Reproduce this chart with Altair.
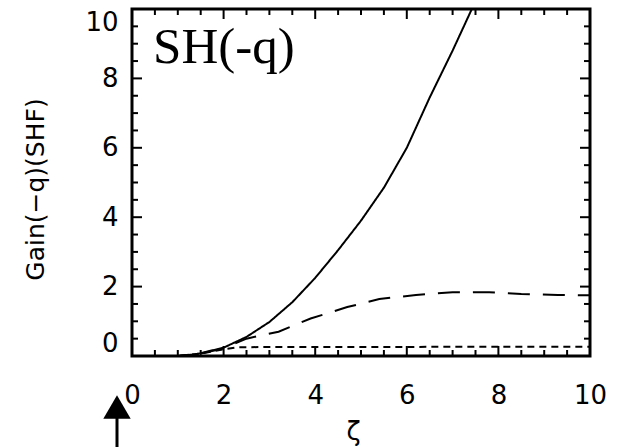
import altair as alt
import pandas as pd

# ---- data ----
solid_x = [0.0, 0.5, 1.0, 1.4, 2.0, 2.5, 3.0, 3.5, 4.0, 4.5, 5.0, 5.5, 6.0, 6.5, 7.0, 7.42]
solid_y = [0.0, 0.0, 0.0, 0.05, 0.24, 0.55, 0.98, 1.55, 2.25, 3.05, 3.9, 4.85, 6.0, 7.45, 8.8, 10.0]

dash_x = [0.0, 0.5, 1.0, 1.5, 2.0, 2.5, 3.2, 3.9, 4.7, 5.4, 6.2, 7.0, 7.8, 8.5, 9.3, 10.0]
dash_y = [0.0, 0.0, 0.0, 0.07, 0.22, 0.5, 0.7, 1.08, 1.41, 1.64, 1.76, 1.84, 1.84, 1.79, 1.76, 1.75]

dot_x = [0.0, 0.5, 1.0, 1.5, 2.0, 2.3, 3.0, 4.0, 5.0, 6.0, 7.0, 8.0, 9.0, 10.0]
dot_y = [0.0, 0.0, 0.0, 0.07, 0.19, 0.25, 0.26, 0.26, 0.26, 0.26, 0.27, 0.27, 0.27, 0.27]

series_names = ["solid", "long dash", "short dash"]

major_ticks = [0, 2, 4, 6, 8, 10]
minor_ticks = [0.5, 1, 1.5, 2.5, 3, 3.5, 4.5, 5, 5.5, 6.5, 7, 7.5, 8.5, 9, 9.5]

panel_label = "SH(-q)"
panel_label_x = [0.46]
panel_label_y = [8.44]

# ---- build tables ----
rows = []
for name, xs_, ys_ in zip(series_names, [solid_x, dash_x, dot_x], [solid_y, dash_y, dot_y]):
    for i, (a, b) in enumerate(zip(xs_, ys_)):
        rows.append({"series": name, "zeta": a, "gain": b, "order": i})
curves = pd.DataFrame(rows)

W, H = 458, 347
xs = alt.Scale(domain=[0, 10], nice=False, zero=False)
ys = alt.Scale(domain=[0, 10], nice=False, zero=False)

lines = alt.Chart(curves).mark_line(color="black", strokeWidth=2, clip=True).encode(
    x=alt.X("zeta:Q", scale=xs,
            axis=alt.Axis(title="ζ", values=major_ticks, format="d", ticks=False, domain=False,
                          grid=False, labelFont="DejaVu Sans", labelFontSize=26, labelColor="black",
                          labelPadding=26, labelFlush=False,
                          titleFont="DejaVu Sans", titleFontSize=26, titleFontWeight="normal",
                          titleColor="black", titleX=221, titleY=75, titleBaseline="middle")),
    y=alt.Y("gain:Q", scale=ys,
            axis=alt.Axis(title="Gain(−q)(SHF)", values=major_ticks, format="d", ticks=False,
                          domain=False, grid=False, labelFont="DejaVu Sans", labelFontSize=26,
                          labelColor="black", labelPadding=14, labelFlush=True,
                          titleFont="DejaVu Sans", titleFontSize=25, titleFontWeight="normal",
                          titleColor="black", titleX=-97, titleY=180, titleAngle=-90,
                          titleAlign="center", titleBaseline="middle")),
    strokeDash=alt.StrokeDash("series:N", legend=None,
                              scale=alt.Scale(domain=series_names,
                                              range=[[1, 0], [22, 13], [7, 5]])),
    order="order:Q",
)

major_df = pd.DataFrame({"t": major_ticks})
minor_df = pd.DataFrame({"t": minor_ticks})

def tick_layers(df, length):
    base = alt.Chart(df).mark_rule(color="black", strokeWidth=2)
    bottom = base.encode(x=alt.X("t:Q", scale=xs), y=alt.value(H), y2=alt.value(H - length))
    top = base.encode(x=alt.X("t:Q", scale=xs), y=alt.value(0), y2=alt.value(length))
    left = base.encode(y=alt.Y("t:Q", scale=ys), x=alt.value(0), x2=alt.value(length))
    right = base.encode(y=alt.Y("t:Q", scale=ys), x=alt.value(W), x2=alt.value(W - length))
    return [bottom, top, left, right]

label_df = pd.DataFrame({"x": panel_label_x, "y": panel_label_y, "text": [panel_label]})
label = alt.Chart(label_df).mark_text(font="Liberation Serif", fontSize=51, align="left",
                                      baseline="alphabetic", color="black").encode(
    x=alt.X("x:Q", scale=xs), y=alt.Y("y:Q", scale=ys), text="text:N")

# arrow annotation below the axis origin
arrow_shaft = alt.Chart(label_df).mark_rule(color="black", strokeWidth=3, clip=False).encode(
    x=alt.value(-15), y=alt.value(400), y2=alt.value(440))
arrow_head = alt.Chart(label_df).mark_point(shape="triangle-up", filled=True, color="black",
                                            size=750, opacity=1, clip=False).encode(
    x=alt.value(-15), y=alt.value(398))

chart = alt.layer(
    lines, *tick_layers(major_df, 10), *tick_layers(minor_df, 6), label, arrow_shaft, arrow_head
).properties(
    width=W, height=H,
    autosize=alt.AutoSizeParams(type="none"),
    padding={"left": 132, "top": 9, "right": 31, "bottom": 91},
    background="white",
).configure_view(stroke="black", strokeWidth=3)

chart.save("out.html", embed_options={"renderer": "svg", "actions": False})
